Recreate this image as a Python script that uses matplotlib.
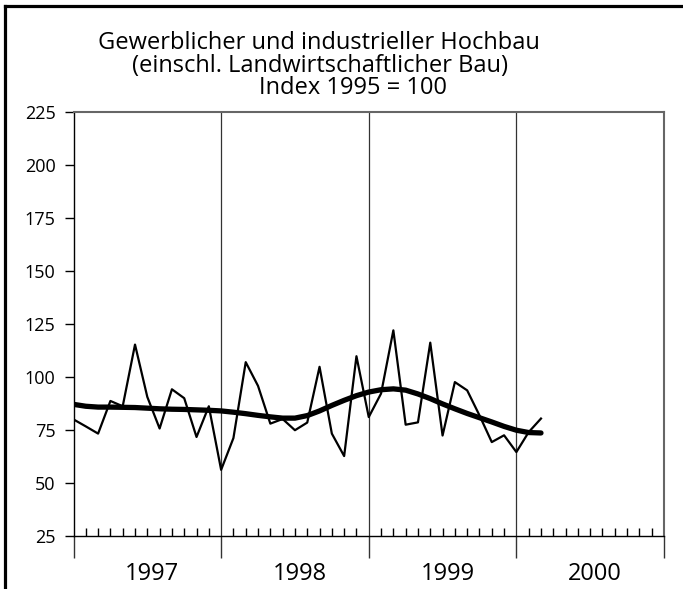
import matplotlib
matplotlib.use("Agg")
import matplotlib.pyplot as plt
from matplotlib.lines import Line2D
import numpy as np

plt.rcParams['font.family'] = ['Open Sans', 'DejaVu Sans']

# monthly values, Jan 1997 .. Mar 2000
years = ['1997', '1998', '1999', '2000']
index_values = [80, 76.7, 73.3, 88.7, 86.2, 115.3, 90.6, 75.7, 94.2, 90.0, 71.7, 86.2,
                56.2, 71.2, 107.0, 95.8, 78.0, 80.2, 74.9, 78.5, 104.8, 73.3, 62.7, 109.8,
                81.1, 92.2, 122.0, 77.5, 78.6, 116.2, 72.4, 97.6, 93.7, 81.9, 69.3, 72.5,
                64.6, 74.0, 80.4]
trend_values = [87.1, 86.2, 85.8, 85.8, 85.7, 85.6, 85.3, 85.0, 84.8, 84.7, 84.5, 84.3,
                84.0, 83.4, 82.7, 81.9, 81.2, 80.6, 80.6, 81.8, 84.0, 86.6, 89.0, 91.2,
                92.9, 94.0, 94.4, 93.8, 92.0, 89.8, 87.3, 85.0, 82.8, 80.8, 78.8, 76.7,
                74.9, 73.8, 73.6]
y_ticks = [25, 50, 75, 100, 125, 150, 175, 200, 225]

W, H = 683, 589
fig = plt.figure(figsize=(W / 100, H / 100), dpi=100)
ax = fig.add_axes([73.5 / W, 1 - 536 / H, (664 - 73.5) / W, (536 - 112) / H])

months = np.arange(len(index_values))
ax.plot(months, index_values, color='black', lw=1.6)
ax.plot(months, trend_values, color='black', lw=3.8, solid_capstyle='round')

ax.set_xlim(0, 12 * len(years))
ax.set_ylim(25, 225)
ax.set_yticks(y_ticks)
ax.set_xticks(np.arange(0, 12 * len(years) + 1, 12))
ax.set_xticks(np.arange(0, 12 * len(years) + 1), minor=True)
ax.tick_params(axis='x', which='major', direction='out', length=16, width=1,
               labelbottom=False, color='#333333')
ax.tick_params(axis='x', which='minor', direction='in', length=6, width=1)
ax.tick_params(axis='y', direction='out', length=6.5, width=1, pad=6.5, labelsize=13)

for b in range(12, 12 * len(years), 12):
    ax.axvline(b, color='#333333', lw=0.9, zorder=0)

for side in ['top', 'right']:
    ax.spines[side].set_color('#666666')
    ax.spines[side].set_linewidth(1.5)
ax.spines['left'].set_linewidth(1)
ax.spines['bottom'].set_linewidth(1)

for i, yr in enumerate(years):
    ax.text(i * 12 + 6.4, -0.09, yr, transform=ax.get_xaxis_transform(),
            ha='center', va='center', fontsize=17)

fig.text(319 / W, 1 - 49 / H, 'Gewerblicher und industrieller Hochbau',
         ha='center', va='baseline', fontsize=17)
fig.text(320 / W, 1 - 72 / H, '(einschl. Landwirtschaftlicher Bau)',
         ha='center', va='baseline', fontsize=17)
fig.text(353 / W, 1 - 94 / H, 'Index 1995 = 100',
         ha='center', va='baseline', fontsize=17)

# outer frame (left and top edges visible)
fig.add_artist(Line2D([4.5 / W, 4.5 / W], [0, 1 - 5.5 / H], color='black', lw=2.3))
fig.add_artist(Line2D([4.5 / W, 1], [1 - 5.5 / H, 1 - 5.5 / H], color='black', lw=2.3))

fig.savefig('out.png', dpi=100)
